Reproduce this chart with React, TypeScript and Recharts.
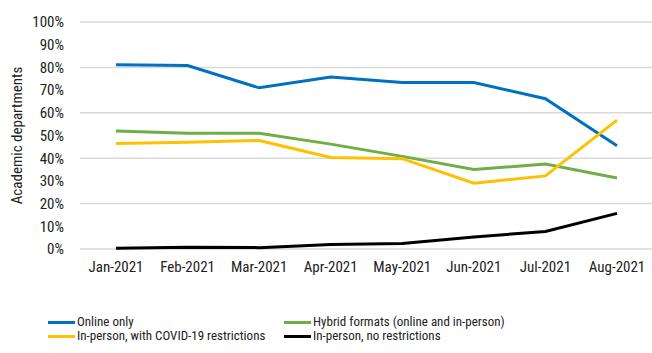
import { LineChart, Line, XAxis, YAxis, CartesianGrid } from 'recharts'

const months = ['Jan-2021', 'Feb-2021', 'Mar-2021', 'Apr-2021', 'May-2021', 'Jun-2021', 'Jul-2021', 'Aug-2021']
const onlineOnly = [81.2, 80.8, 71, 75.8, 73.3, 73.3, 66.2, 45.5]
const hybrid = [52, 51, 51, 46.2, 40.8, 35, 37.4, 31.3]
const inPersonRestricted = [46.5, 47, 47.8, 40.3, 39.8, 29, 32.2, 56.8]
const inPersonFree = [0.3, 0.8, 0.6, 2, 2.4, 5.3, 7.7, 15.7]
const yTicks = [0, 10, 20, 30, 40, 50, 60, 70, 80, 90, 100]

const FONT = '"Liberation Sans Narrow", "Roboto Condensed", Roboto, sans-serif'

const series = [
  { key: 'online', name: 'Online only', color: '#0070C0', values: onlineOnly },
  { key: 'hybrid', name: 'Hybrid formats (online and in-person)', color: '#70AD47', values: hybrid },
  { key: 'restricted', name: 'In-person, with COVID-19 restrictions', color: '#FFC000', values: inPersonRestricted },
  { key: 'free', name: 'In-person, no restrictions', color: '#000000', values: inPersonFree },
]

const data = months.map((m, i) => {
  const row: Record<string, string | number> = { month: m }
  series.forEach((s) => (row[s.key] = s.values[i]))
  return row
})

function LegendItem({ color, label, left, top }: { color: string; label: string; left: number; top: number }) {
  return (
    <div style={{ position: 'absolute', left, top, display: 'flex', alignItems: 'center' }}>
      <span style={{ display: 'block', width: 27, height: 3, background: color, marginRight: 2 }} />
      <span style={{ fontSize: 13, color: '#222', whiteSpace: 'nowrap', lineHeight: '16px' }}>{label}</span>
    </div>
  )
}

export default function App() {
  return (
    <div style={{ position: 'absolute', left: 0, top: 0, width: 652, height: 353, background: '#fff', fontFamily: FONT }}>
      <LineChart width={652} height={290} data={data} margin={{ top: 22, right: 0, left: 0, bottom: 0 }}>
        <CartesianGrid vertical={false} stroke="#d9d9d9" strokeWidth={1.5} />
        <XAxis
          dataKey="month"
          axisLine={false}
          tickLine={false}
          tickSize={0}
          tickMargin={12}
          height={41}
          interval={0}
          padding={{ left: 36, right: 35 }}
          tick={{ fill: '#222', fontSize: 15, fontFamily: FONT }}
        />
        <YAxis
          domain={[0, 100]}
          ticks={yTicks}
          width={80}
          axisLine={false}
          tickLine={false}
          tickSize={0}
          tickMargin={16}
          tickFormatter={(v: number) => `${v}%`}
          tick={{ fill: '#222', fontSize: 15, fontFamily: FONT }}
          label={{
            value: 'Academic departments',
            angle: -90,
            position: 'insideLeft',
            dx: 12,
            style: { textAnchor: 'middle', fill: '#222', fontSize: 15, fontFamily: FONT },
          }}
        />
        {series.map((s) => (
          <Line
            key={s.key}
            dataKey={s.key}
            name={s.name}
            stroke={s.color}
            strokeWidth={3}
            dot={false}
            type="linear"
            isAnimationActive={false}
          />
        ))}
      </LineChart>
      <LegendItem color={series[0].color} label={series[0].name} left={48} top={314} />
      <LegendItem color={series[1].color} label={series[1].name} left={284} top={314} />
      <LegendItem color={series[2].color} label={series[2].name} left={48} top={328} />
      <LegendItem color={series[3].color} label={series[3].name} left={284} top={328} />
    </div>
  )
}
